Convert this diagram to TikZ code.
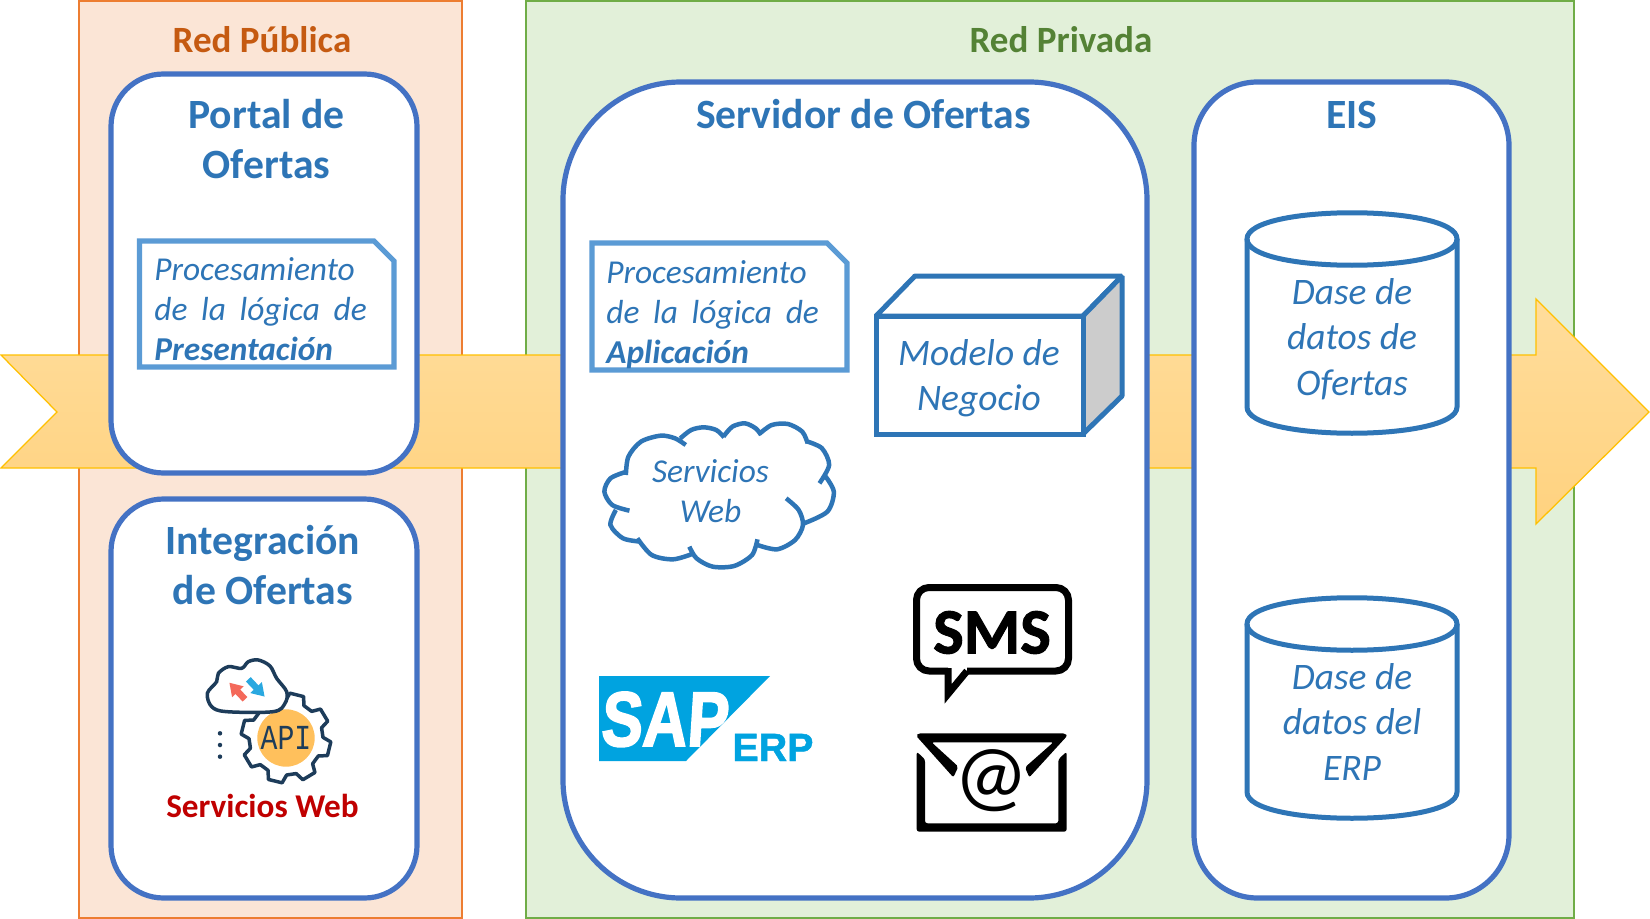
\documentclass[tikz,border=0pt]{standalone}
\usepackage{fontspec}
\setmainfont{Carlito}
\newfontfamily\sapfont[BoldFeatures={FakeBold=2.5,FakeSlant=.08}]{Liberation Sans}
\newfontfamily\erpfont[BoldFeatures={FakeBold=1.2}]{Liberation Sans}
\newfontfamily\heavyfont[BoldFeatures={FakeBold=1.5}]{Carlito}
\newfontfamily\apifont{Liberation Mono}
\usetikzlibrary{arrows.meta}
\definecolor{pubfill}{HTML}{FBE5D6}
\definecolor{publine}{HTML}{ED7D31}
\definecolor{pubtext}{HTML}{C55A11}
\definecolor{privfill}{HTML}{E2F0D9}
\definecolor{privline}{HTML}{70AD47}
\definecolor{privtext}{HTML}{548235}
\definecolor{boxline}{HTML}{4472C4}
\definecolor{noteline}{HTML}{5B9BD5}
\definecolor{inktext}{HTML}{2E75B6}
\definecolor{flowtop}{HTML}{FFDD9C}
\definecolor{flowbot}{HTML}{FFD27F}
\definecolor{flowline}{HTML}{FFC000}
\definecolor{sapblue}{HTML}{00A3E0}
\definecolor{apiink}{HTML}{1D3C5A}
\definecolor{apigold}{HTML}{FFC05C}
\definecolor{apired}{HTML}{F4695A}
\definecolor{apiblue}{HTML}{29A8E0}
\definecolor{websrv}{HTML}{C00000}
\tikzset{
  px/.style={x=.02cm,y=-.02cm},
  zoomgrid/.style={x=.0066667cm,y=-.0066667cm},
  zonebox/.style={line width=.04cm},
  tier/.style={draw=boxline,fill=white,line width=.104cm},
  zonetitle/.style={font=\fontsize{21.1}{25}\selectfont\bfseries,anchor=base},
  tiertitle/.style={text=inktext,font=\fontsize{23.7}{28.6}\selectfont\bfseries,align=center,inner sep=0pt},
  noteshape/.style={draw=noteline,fill=white,line width=.104cm},
  notetext/.style={text=inktext,font=\fontsize{19}{22.7}\selectfont\itshape,align=left,inner sep=0pt},
  inkline/.style={draw=inktext,line width=.1cm},
  bigitalic/.style={text=inktext,font=\fontsize{21.3}{25.9}\selectfont\itshape,align=center,inner sep=0pt},
  blackicon/.style={draw=black,line width=.14cm},
}
\begin{document}
\begin{tikzpicture}[px]
\useasboundingbox (0,0) rectangle (1650,919);
\draw[zonebox,draw=publine,fill=pubfill] (79,1) rectangle (462,918);
\draw[zonebox,draw=privline,fill=privfill] (526,1) rectangle (1574,918);
\node[zonetitle,text=pubtext] (redpub) at (262,53){Red Pública};
\node[zonetitle,text=privtext] (redpriv) at (1061,53){Red Privada};
% flecha de fondo
\draw[draw=flowline,line width=.025cm,top color=flowtop,bottom color=flowbot]
  (1,355) -- (1536,355) -- (1536,299) -- (1649,412) -- (1536,524) -- (1536,468) -- (1,468) -- (57,412) -- cycle;
% cajas
\draw[tier,rounded corners=1.05cm] (111,74) rectangle (417,473);
\draw[tier,rounded corners=1.05cm] (111,499) rectangle (417,898);
\draw[tier,rounded corners=2.36cm] (563,82) rectangle (1147,898);
\draw[tier,rounded corners=1.27cm] (1194,82) rectangle (1509,898);
\node[tiertitle] (portal) at (266.5,139){Portal de\\Ofertas};
\node[tiertitle] (integra) at (263,565){Integración\\de Ofertas};
\node[tiertitle] (servidor) at (863.5,114){Servidor de Ofertas};
\node[tiertitle] (eis) at (1352,115){EIS};
% notas
\draw[noteshape] (139.5,241) -- (374,241) -- (394,261) -- (394,367) -- (139.5,367) -- cycle;
\node[notetext,anchor=north west] (presenta) at (154,257.5){Procesamiento\\\makebox[121pt][s]{de la lógica de}\\\textbf{Presentación}};
\draw[noteshape] (592,243) -- (827,243) -- (847,263) -- (847,370) -- (592,370) -- cycle;
\node[notetext,anchor=north west] (aplica) at (606,260.5){Procesamiento\\\makebox[121pt][s]{de la lógica de}\\\textbf{Aplicación}};
% caja 3d
\draw[inkline,fill=white,line join=bevel] (876,316) -- (915,276) -- (1122,276) -- (1083,316) -- cycle;
\draw[inkline,fill=black!20,line join=bevel] (1083,316) -- (1122,276) -- (1122,396) -- (1083,434) -- cycle;
\draw[inkline,fill=white] (876,316) rectangle (1083,434);
\node[bigitalic] (modelo) at (979,378){Modelo de\\Negocio};
% nube
\begin{scope}[shift={(580,230)},x=.007179cm,y=-.0066667cm]
\draw[inkline,line width=.09cm]
  plot[smooth] coordinates {(128,735)(135,680)(170,635)(225,617)(265,625)(295,645)}
  plot[smooth] coordinates {(280,625)(310,600)(345,592)(380,600)(402,622)}
  plot[smooth] coordinates {(400,620)(425,590)(460,580)(490,595)(505,615)}
  plot[smooth] coordinates {(500,612)(535,585)(580,582)(620,605)(635,640)}
  plot[smooth] coordinates {(635,635)(675,655)(695,705)(668,760)}
  plot[smooth] coordinates {(682,735)(708,785)(690,845)(625,880)}
  plot[smooth] coordinates {(575,805)(610,840)(622,885)(600,930)(550,958)(495,945)}
  plot[smooth] coordinates {(495,928)(480,975)(430,1008)(370,1010)(325,985)(305,950)}
  plot[smooth] coordinates {(318,970)(260,988)(200,975)(160,925)}
  plot[smooth] coordinates {(170,935)(120,925)(85,885)(100,840)}
  plot[smooth] coordinates {(138,842)(90,825)(68,785)(85,745)(130,725)};
\end{scope}
\node[notetext,align=center] (nubeweb) at (710.5,491){Servicios\\Web};
% sap erp
\fill[sapblue] (599,676) -- (770,676) -- (686,761) -- (599,761) -- cycle;
\node[font=\sapfont\fontsize{44}{44}\selectfont\bfseries,text=white,anchor=base,xscale=.8,transform shape,inner sep=0pt] (sapword) at (664,746){SAP};
\node[font=\erpfont\fontsize{22.4}{23}\selectfont\bfseries,text=sapblue,anchor=base,inner sep=0pt] (erpword) at (773,761){ERP};
% sms
\draw[blackicon,rounded corners=.25cm,line join=round]
  (948,671) -- (916.5,671) -- (916.5,587.5) -- (1068.5,587.5) -- (1068.5,671) -- (967,671);
\draw[blackicon,line join=miter] (948,668) -- (948,694) -- (967,671);
\node[font=\heavyfont\fontsize{36.8}{37}\selectfont\bfseries,anchor=base,inner sep=0pt] (smsword) at (992,653.5){SMS};
% correo
\begin{scope}[shift={(890,570)},zoomgrid]
\fill[black,rounded corners=.05cm] (80,545) -- (105,568) -- (105,760) -- (505,760) -- (505,568) -- (530,545) -- (530,785) -- (80,785) -- cycle;
\fill[black,rounded corners=.04cm] (78,497) -- (85,490) -- (525,490) -- (532,497) -- (418,622) -- (405,592) -- (490,517) -- (125,517) -- (205,590) -- (190,622) -- cycle;
\node[font=\fontsize{47}{47}\selectfont,inner sep=0pt] (arroba) at (305,632){@};
\end{scope}
% base de datos
\foreach \cy/\ty/\dbname/\dbtext in {239/339/dbofer/{Dase de\\datos de\\Ofertas},624/722/dberp/{Dase de\\datos del\\ERP}}{
  \draw[inkline,fill=white] (1247,\cy) .. controls (1247,\cy+35) and (1457,\cy+35) .. (1457,\cy) .. controls (1457,\cy-35) and (1247,\cy-35) .. (1247,\cy) -- cycle;
  \draw[inkline] (1247,\cy) -- (1247,\cy+168) .. controls (1247,\cy+203) and (1457,\cy+203) .. (1457,\cy+168) -- (1457,\cy);
  \node[bigitalic] (\dbname) at (1352,\ty){\dbtext};
}
% icono api
\begin{scope}[shift={(286,738)}]
\draw[draw=apiink,fill=white,line width=.07cm,line join=round]
  (-90:37) \foreach \a in {-76,-31,14,59,104,149,194,239}{ -- (\a-15:37) -- (\a-9:45) -- (\a+9:45) -- (\a+15:37)} -- cycle;
\fill[apigold] (0,0) circle (.574cm);
\node[font=\apifont\fontsize{20}{20}\selectfont,text=apiink,xscale=.8,transform shape,inner sep=0pt] (apiword) at (0,0){API};
\end{scope}
\begin{scope}[shift={(170,640)},zoomgrid]
\draw[draw=apiink,fill=white,line width=.07cm,line join=round] plot[smooth cycle,tension=.55] coordinates
  {(170,215)(310,215)(345,190)(350,155)(320,115)(300,78)(265,60)(235,65)(215,85)(175,80)(145,100)(140,125)(112,160)(125,200)};
\coordinate (redfrom) at (225,178);
\coordinate (redto) at (178,128);
\coordinate (bluefrom) at (235,118);
\coordinate (blueto) at (284,170);
\draw[draw=apired,line width=.13cm,-{Triangle[width=.3cm,length=.25cm]}] (redfrom) -- (redto);
\draw[draw=apiblue,line width=.13cm,-{Triangle[width=.3cm,length=.25cm]}] (bluefrom) -- (blueto);
\foreach \dy in {280,315,350}
  \fill[apiink] (150,\dy) circle (.045cm);
\end{scope}
\node[font=\fontsize{18.9}{20}\selectfont\bfseries,text=websrv,anchor=base,inner sep=0pt] (serweb) at (262.5,817){Servicios Web};
\end{tikzpicture}
\end{document}
